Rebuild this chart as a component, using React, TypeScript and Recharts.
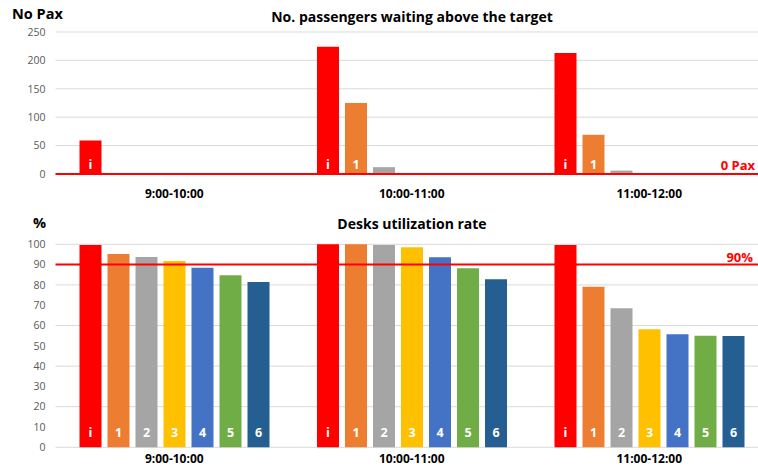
import { BarChart, Bar, XAxis, YAxis, CartesianGrid, ReferenceLine, LabelList } from "recharts";

const FONT = "'Open Sans', Lato, sans-serif";

const categories = ["9:00-10:00", "10:00-11:00", "11:00-12:00"];
const desks = ["i", "1", "2", "3", "4", "5", "6"];
const deskColors = ["#FF0000", "#ED7D31", "#A5A5A5", "#FFC000", "#4472C4", "#70AD47", "#255E91"];

// passengers waiting above target, per desk
const waitI = [59, 224, 213];
const wait1 = [0, 125, 69];
const wait2 = [0, 12, 6];
const wait3 = [0, 0, 0];
const wait4 = [0, 0, 0];
const wait5 = [0, 0, 0];
const wait6 = [0, 0, 0];

// desks utilization rate (%), per desk
const utilI = [99.6, 100, 99.6];
const util1 = [95.2, 100, 79.1];
const util2 = [93.7, 99.6, 68.5];
const util3 = [91.8, 98.5, 58.1];
const util4 = [88.5, 93.6, 55.7];
const util5 = [84.7, 88.2, 55.0];
const util6 = [81.4, 82.8, 54.8];

const paxTicks = [0, 50, 100, 150, 200, 250];
const utilTicks = [0, 10, 20, 30, 40, 50, 60, 70, 80, 90, 100];
const paxTarget = 0;
const utilTarget = 90;

const waitSeries = [waitI, wait1, wait2, wait3, wait4, wait5, wait6];
const utilSeries = [utilI, util1, util2, util3, util4, util5, util6];

const buildRows = (series: number[][]) =>
  categories.map((cat, i) => {
    const row: any = { cat };
    desks.forEach((d, k) => (row["d" + d] = series[k][i]));
    return row;
  });

const paxData = buildRows(waitSeries);
const utilData = buildRows(utilSeries);

const tickStyle = { fill: "#595959", fontSize: 10.5, fontFamily: FONT };
const catStyle = { fill: "#000", fontSize: 12, fontWeight: 700, fontFamily: FONT };

const deskLabel = (name: string, minH: number, lift: number) => (p: any) => {
  if (!p.height || p.height < minH) return null;
  return (
    <text
      x={p.x + p.width / 2}
      y={p.y + p.height - lift}
      textAnchor="middle"
      fill="#fff"
      fontSize={12.5}
      fontWeight={700}
      fontFamily={FONT}
    >
      {name}
    </text>
  );
};

const refLabel = (text: string, dx: number, dy: number) => (p: any) => {
  const vb = p.viewBox;
  return (
    <text
      x={vb.x + vb.width - dx}
      y={vb.y - dy}
      textAnchor="end"
      fill="#FF0000"
      fontSize={13}
      fontWeight={700}
      fontFamily={FONT}
    >
      {text}
    </text>
  );
};

const title = (text: string, top: number) => (
  <div
    style={{
      position: "absolute",
      left: 412,
      top,
      transform: "translateX(-50%)",
      whiteSpace: "nowrap",
      fontSize: 14,
      fontWeight: 700,
      color: "#000",
    }}
  >
    {text}
  </div>
);

export default function App() {
  return (
    <div
      style={{
        position: "absolute",
        left: 0,
        top: 0,
        width: 758,
        height: 470,
        overflow: "hidden",
        background: "#fff",
        fontFamily: FONT,
      }}
    >
      <div style={{ position: "absolute", left: 12, top: 4, fontSize: 14.5, fontWeight: 700 }}>No Pax</div>
      {title("No. passengers waiting above the target", 7)}
      <div style={{ position: "absolute", left: 33, top: 213, fontSize: 14.5, fontWeight: 700 }}>%</div>
      {title("Desks utilization rate", 214)}

      <div style={{ position: "absolute", left: 0, top: 0 }}>
        <BarChart
          width={770}
          height={205}
          data={paxData}
          margin={{ top: 32, right: 2, bottom: 5, left: 10 }}
          barSize={22}
          barGap={6}
        >
          <CartesianGrid vertical={false} stroke="#D9D9D9" />
          <XAxis
            dataKey="cat"
            axisLine={false}
            tickLine={false}
            tick={catStyle}
            tickMargin={9}
            height={26}
          />
          <YAxis
            domain={[0, 250]}
            ticks={paxTicks}
            axisLine={false}
            tickLine={false}
            tick={tickStyle}
            tickMargin={4}
            width={45.5}
          />
          {desks.map((d, k) => (
            <Bar key={d} dataKey={"d" + d} fill={deskColors[k]} isAnimationActive={false}>
              <LabelList dataKey={"d" + d} content={deskLabel(d, 20, 5.5)} />
            </Bar>
          ))}
          <ReferenceLine y={paxTarget} stroke="#FF0000" strokeWidth={2} label={refLabel("0 Pax", 13, 4)} />
        </BarChart>
      </div>

      <div style={{ position: "absolute", left: 0, top: 205 }}>
        <BarChart
          width={770}
          height={265}
          data={utilData}
          margin={{ top: 39.3, right: 2, bottom: 2.7, left: 10 }}
          barSize={22}
          barGap={6}
        >
          <CartesianGrid vertical={false} stroke="#D9D9D9" />
          <XAxis
            dataKey="cat"
            axisLine={false}
            tickLine={false}
            tick={catStyle}
            tickMargin={1.5}
            height={20}
          />
          <YAxis
            domain={[0, 100]}
            ticks={utilTicks}
            axisLine={false}
            tickLine={false}
            tick={tickStyle}
            tickMargin={4}
            width={45.5}
          />
          {desks.map((d, k) => (
            <Bar key={d} dataKey={"d" + d} fill={deskColors[k]} isAnimationActive={false}>
              <LabelList dataKey={"d" + d} content={deskLabel(d, 20, 10)} />
            </Bar>
          ))}
          <ReferenceLine y={utilTarget} stroke="#FF0000" strokeWidth={2} label={refLabel("90%", 15, 3)} />
        </BarChart>
      </div>
    </div>
  );
}
